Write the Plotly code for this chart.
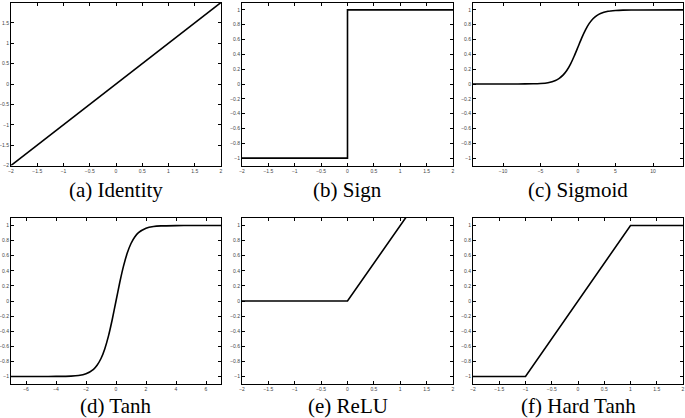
import plotly.graph_objects as go
from plotly.subplots import make_subplots

# values
identity_x = [-2, 2]
identity_y = [-2, 2]

sign_x = [-2, 0, 0, 2]
sign_y = [-1, -1, 1, 1]

sigmoid_x = [-14, -8, -6, -5, -4, -3, -2.5, -2, -1.5, -1, -0.5, 0, 0.5, 1, 1.5, 2, 2.5, 3, 4, 5, 6, 8, 14]
sigmoid_y = [0, 0.0003, 0.0025, 0.007, 0.018, 0.047, 0.076, 0.119, 0.182, 0.269, 0.378, 0.5,
             0.622, 0.731, 0.818, 0.881, 0.924, 0.953, 0.982, 0.993, 0.9975, 0.9997, 1]

tanh_x = [-7, -5, -4, -3, -2.5, -2, -1.5, -1.25, -1, -0.75, -0.5, -0.25, 0, 0.25, 0.5, 0.75, 1, 1.25, 1.5, 2, 2.5, 3, 4, 5, 7]
tanh_y = [-1, -0.9999, -0.9993, -0.995, -0.987, -0.964, -0.905, -0.848, -0.762, -0.635, -0.462, -0.245, 0,
          0.245, 0.462, 0.635, 0.762, 0.848, 0.905, 0.964, 0.987, 0.995, 0.9993, 0.9999, 1]

relu_x = [-2, 0, 2]
relu_y = [0, 0, 2]

hardtanh_x = [-2, -1, 1, 2]
hardtanh_y = [-1, -1, 1, 1]

captions = ["(a) Identity", "(b) Sign", "(c) Sigmoid", "(d) Tanh", "(e) ReLU", "(f) Hard Tanh"]

W, H = 685, 418
col_px = [(11, 221), (242, 453), (473, 683)]
row_px = [(2.5, 165.5), (218, 384)]
caption_px = [190, 406]

fig = make_subplots(rows=2, cols=3)

series = [
    (identity_x, identity_y, "linear"),
    (sign_x, sign_y, "linear"),
    (sigmoid_x, sigmoid_y, "spline"),
    (tanh_x, tanh_y, "spline"),
    (relu_x, relu_y, "linear"),
    (hardtanh_x, hardtanh_y, "linear"),
]
xranges = [[-2, 2], [-2, 2], [-14, 14], [-7, 7], [-2, 2], [-2, 2]]
yranges = [[-2, 2], [-1.1, 1.1], [-1.1, 1.1], [-1.1, 1.1], [-1.1, 1.1], [-1.1, 1.1]]
xdticks = [0.5, 0.5, 5, 2, 0.5, 0.5]
ydticks = [0.5, 0.2, 0.2, 0.2, 0.2, 0.2]

for i, (xs, ys, shape) in enumerate(series):
    r, c = i // 3, i % 3
    fig.add_trace(go.Scatter(x=xs, y=ys, mode="lines",
                             line=dict(color="black", width=1.6, shape=shape, smoothing=0.6),
                             showlegend=False), row=r + 1, col=c + 1)
    ax = dict(showgrid=False, zeroline=False, showline=True, mirror="ticks",
              linecolor="black", linewidth=1, ticks="inside", ticklen=3,
              tickcolor="black", tickwidth=0.6, automargin=False,
              tickfont=dict(size=5, color="#444", family="Liberation Sans"))
    fig.update_xaxes(ax, range=xranges[i], tickmode="linear", tick0=0, dtick=xdticks[i],
                     domain=[col_px[c][0] / W, col_px[c][1] / W], row=r + 1, col=c + 1)
    fig.update_yaxes(ax, range=yranges[i], tickmode="linear", tick0=0, dtick=ydticks[i],
                     domain=[1 - row_px[r][1] / H, 1 - row_px[r][0] / H], row=r + 1, col=c + 1)
    fig.add_annotation(text=captions[i], xref="paper", yref="paper",
                       x=(col_px[c][0] + col_px[c][1]) / 2 / W, y=1 - caption_px[r] / H,
                       showarrow=False, xanchor="center", yanchor="middle",
                       font=dict(family="Liberation Serif", size=21, color="black"))

fig.update_layout(width=W, height=H, margin=dict(l=0, r=0, t=0, b=0),
                  plot_bgcolor="white", paper_bgcolor="white")
# the page body has a default 8px margin; drop it so the figure fills the window
fig.write_html("out.html", config={"displayModeBar": False},
               post_script="document.body.style.margin='0px';")
